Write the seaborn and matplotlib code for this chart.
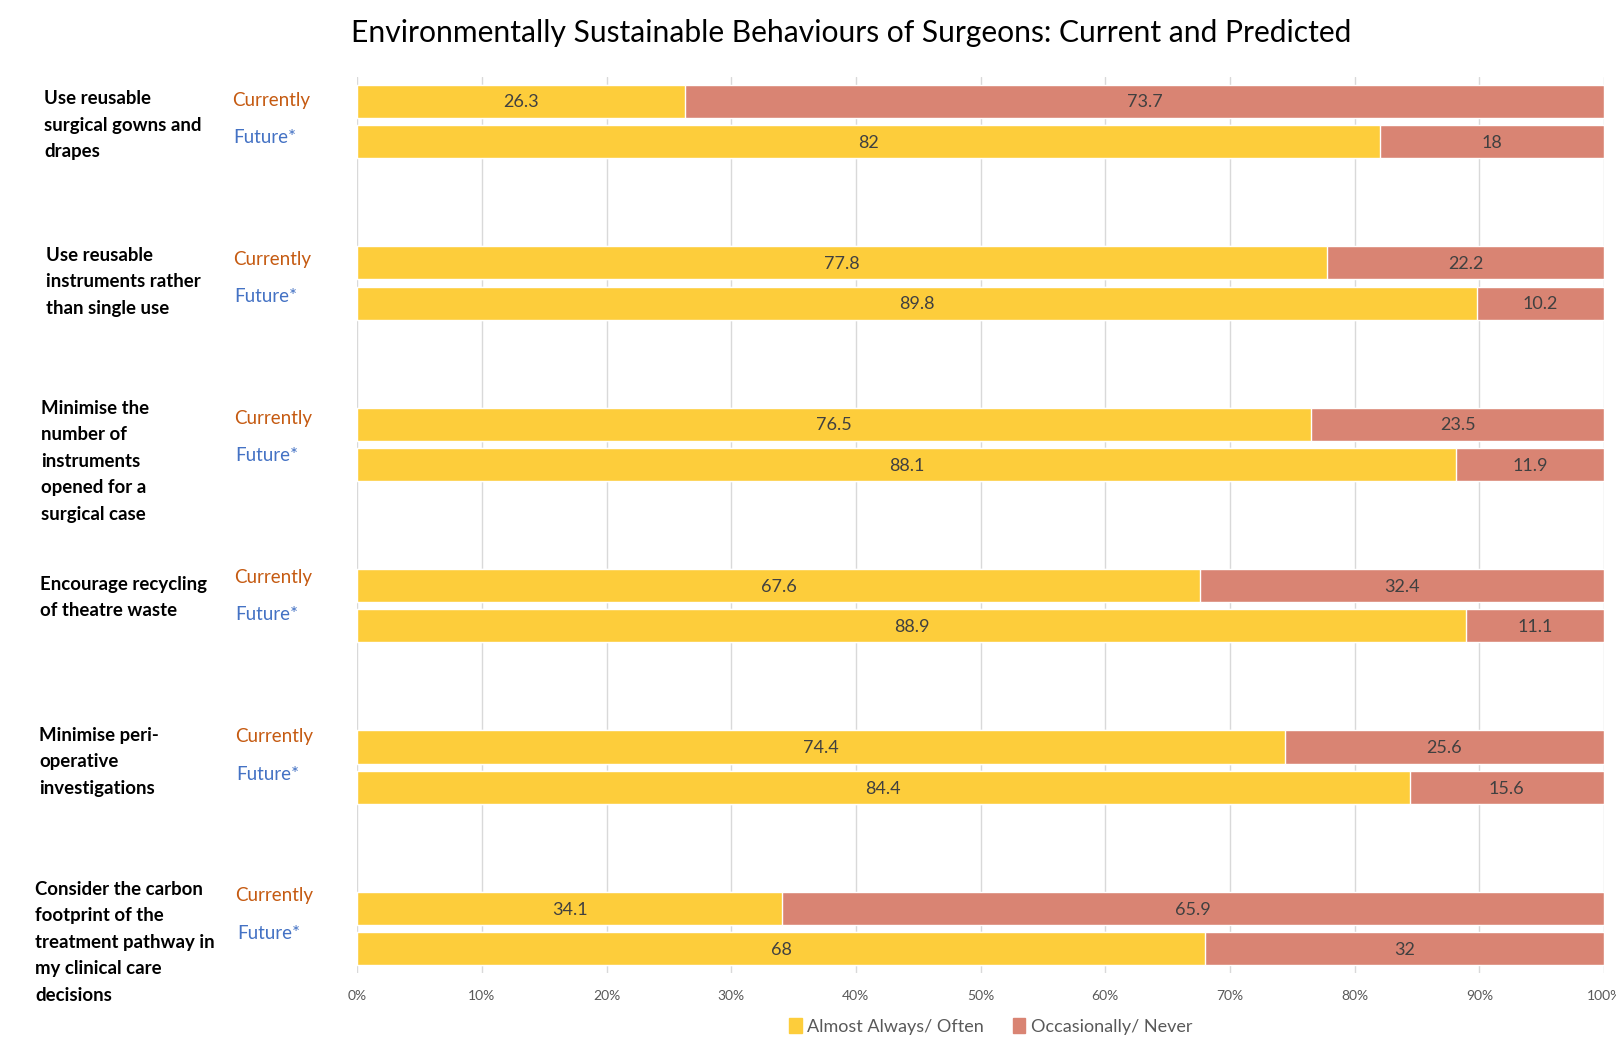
import pandas as pd
import seaborn as sns
import matplotlib.pyplot as plt
from matplotlib.patches import Patch
from matplotlib.transforms import blended_transform_factory

# values
behaviours = [
    "Use reusable\nsurgical gowns and\ndrapes",
    "Use reusable\ninstruments rather\nthan single use",
    "Minimise the\nnumber of\ninstruments\nopened for a\nsurgical case",
    "Encourage recycling\nof theatre waste",
    "Minimise peri-\noperative\ninvestigations",
    "Consider the carbon\nfootprint of the\ntreatment pathway in\nmy clinical care\ndecisions",
]
timing = ["Currently", "Future*"]
current_often = [26.3, 77.8, 76.5, 67.6, 74.4, 34.1]
current_never = [73.7, 22.2, 23.5, 32.4, 25.6, 65.9]
future_often = [82, 89.8, 88.1, 88.9, 84.4, 68]
future_never = [18, 10.2, 11.9, 11.1, 15.6, 32]

# where the left-hand text boxes sit (figure x, offset from the bar in y units)
label_x = [0.0274, 0.0287, 0.0255, 0.0249, 0.0242, 0.0217]
label_dy = [-0.07, -0.19, -0.40, -0.04, -0.30, -0.49]

yellow = "#FDCD3B"
salmon = "#D98473"
text_grey = "#404040"

rows = []
for i in range(len(behaviours)):
    rows.append({"pos": 4 * i, "when": timing[0], "often": current_often[i], "never": current_never[i]})
    rows.append({"pos": 4 * i + 1, "when": timing[1], "often": future_often[i], "never": future_never[i]})
df = pd.DataFrame(rows)
df["total"] = df["often"] + df["never"]

sns.set_theme(style="white")
plt.rcParams["font.family"] = ["Lato", "DejaVu Sans"]

fig = plt.figure(figsize=(16.16, 10.37), dpi=100)
ax = fig.add_axes([0.221, 0.0617, 0.7716, 0.864])

# stacked bars: full length salmon first, yellow on top
sns.barplot(data=df, x="total", y="pos", orient="h", native_scale=True,
            color=salmon, saturation=1, width=0.82, ax=ax, zorder=2)
sns.barplot(data=df, x="often", y="pos", orient="h", native_scale=True,
            color=yellow, saturation=1, width=0.82, ax=ax, zorder=3)

for _, r in df.iterrows():
    ax.text(r["often"] / 2, r["pos"] + 0.03, f"{r['often']:g}", ha="center", va="center",
            fontsize=13, color=text_grey, zorder=4)
    ax.text(r["often"] + r["never"] / 2, r["pos"] + 0.03, f"{r['never']:g}", ha="center", va="center",
            fontsize=13, color=text_grey, zorder=4)

ax.set_xlim(0, 100)
ax.set_ylim(21.6, -0.6)
ax.set_xticks(range(0, 101, 10))
ax.set_xticklabels([f"{t}%" for t in range(0, 101, 10)], fontsize=10, color="#595959")
ax.tick_params(axis="x", length=0, pad=12)
ax.set_yticks([])
ax.set_xlabel("")
ax.set_ylabel("")
ax.grid(axis="x", color="#D9D9D9", linewidth=1, zorder=0)
for s in ax.spines.values():
    s.set_visible(False)

# row and group labels on the left
trans = ax.get_yaxis_transform()
fig_trans = blended_transform_factory(fig.transFigure, ax.transData)
for i, label in enumerate(behaviours):
    y0 = 4 * i
    ax.text(label_x[i], y0 + label_dy[i] - 0.2, label, transform=fig_trans, ha="left", va="top",
            fontsize=13.4, fontweight="bold", color="black", linespacing=1.68, clip_on=False)
    ax.text(-0.1 + 0.0005 * i, y0 - 0.03 - 0.06 * i, timing[0], transform=trans, ha="left", va="center",
            fontsize=13.5, color="#C55A11", clip_on=False)
    ax.text(-0.099 + 0.0005 * i, y0 + 1 - 0.11 - 0.055 * i, timing[1], transform=trans, ha="left", va="center",
            fontsize=13.5, color="#4472C4", clip_on=False)

fig.suptitle("Environmentally Sustainable Behaviours of Surgeons: Current and Predicted",
             x=0.527, y=0.968, va="center", fontsize=21.6, color="black")

handles = [Patch(color=yellow, label="Almost Always/ Often"),
           Patch(color=salmon, label="Occasionally/ Never")]
fig.legend(handles=handles, loc="center", bbox_to_anchor=(0.613, 0.01), ncol=2, frameon=False,
           fontsize=13, handlelength=0.7, handleheight=0.9, handletextpad=0.3, columnspacing=1.6,
           labelcolor="#595959")

fig.savefig("out.png", dpi=100)
